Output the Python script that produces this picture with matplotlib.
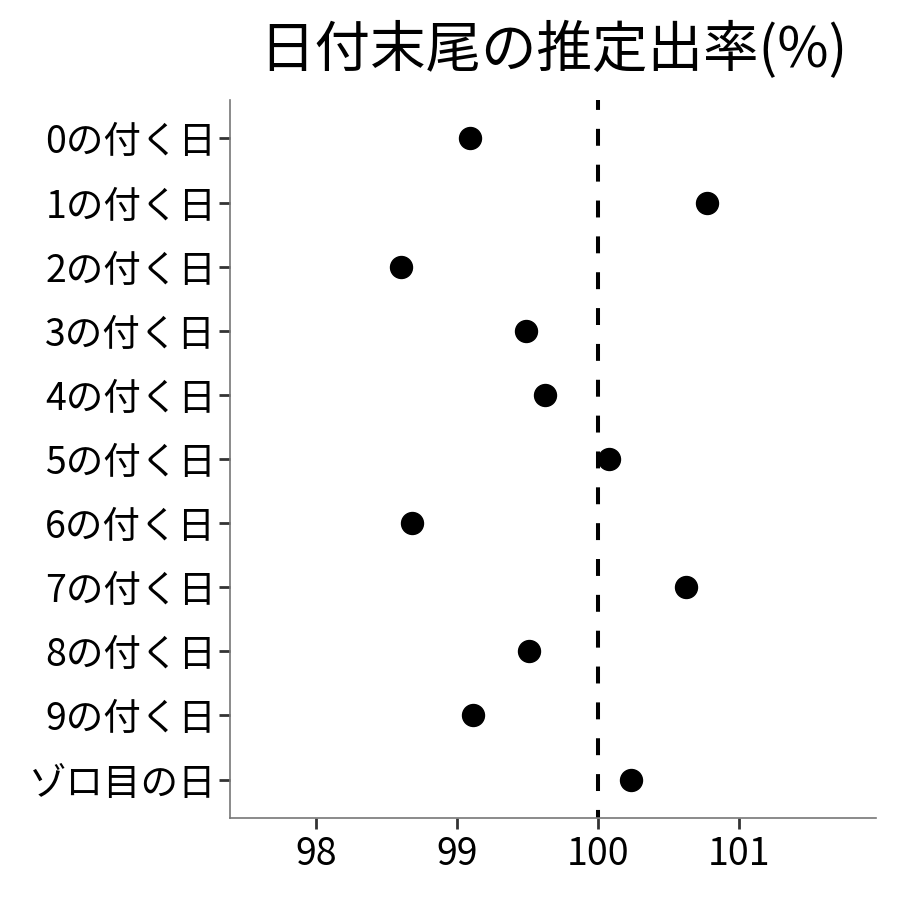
import matplotlib
matplotlib.use("Agg")
import matplotlib.pyplot as plt

plt.rcParams['font.family'] = ['Noto Sans CJK JP', 'DejaVu Sans']

# 日付末尾ごとの推定出率
labels = ["0の付く日", "1の付く日", "2の付く日", "3の付く日", "4の付く日",
          "5の付く日", "6の付く日", "7の付く日", "8の付く日", "9の付く日", "ゾロ目の日"]
rates = [99.09, 100.77, 98.60, 99.49, 99.62, 100.08, 98.68, 100.62, 99.51, 99.11, 100.23]
xticks = [98, 99, 100, 101]

fig = plt.figure(figsize=(9, 9), dpi=100)
ax = fig.add_axes([0.2556, 0.0911, 0.7178, 0.7978])

ypos = list(range(len(labels), 0, -1))
ax.scatter(rates, ypos, s=250, color='black', zorder=3)
ax.axvline(100, color='black', linestyle=(2.2, (4.2, 4.7)), linewidth=2.9)

ax.set_xlim(97.39, 101.97)
ax.set_ylim(0.4, len(labels) + 0.6)
ax.set_xticks(xticks)
ax.set_yticks(ypos)
ax.set_yticklabels(labels)
ax.tick_params(axis='both', labelsize=27, length=8, width=2, color='#333333', labelcolor='black')
ax.tick_params(axis='y', pad=2)
ax.tick_params(axis='x', pad=4)

for side in ['top', 'right']:
    ax.spines[side].set_visible(False)
for side in ['left', 'bottom']:
    ax.spines[side].set_color('#777777')
    ax.spines[side].set_linewidth(1.2)

ax.set_title("日付末尾の推定出率(%)", fontsize=40, pad=24)

fig.savefig("out.png", dpi=100)
